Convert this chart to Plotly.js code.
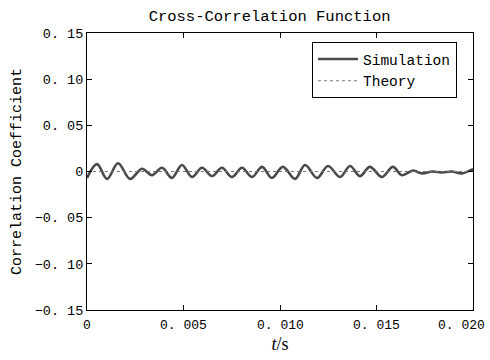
<!DOCTYPE html>
<html>
<head>
<meta charset="utf-8">
<script src="https://cdn.plot.ly/plotly-3.0.1.min.js"></script>
<style>html,body{margin:0;padding:0;background:#fff;}#chart{width:490px;height:360px;}</style>
</head>
<body>
<div id="chart"></div>
<script>
// Simulation curve: extrema (time in s, correlation coefficient)
var simT = [0, 0.00052, 0.00104, 0.00161, 0.00223, 0.00285, 0.00337, 0.00389, 0.00440, 0.00492,
            0.00544, 0.00596, 0.00648, 0.00699, 0.00751, 0.00803, 0.00855, 0.00907, 0.00958, 0.01015,
            0.01078, 0.01130, 0.01192, 0.01249, 0.01311, 0.01363, 0.01414, 0.01466, 0.01528, 0.01585,
            0.01632, 0.01689, 0.01736, 0.01788, 0.01839, 0.01891, 0.01943, 0.01995, 0.02000];
var simY = [-0.007, 0.008, -0.008, 0.009, -0.008, 0.003, -0.004, 0.004, -0.007, 0.007,
            -0.006, 0.004, -0.005, 0.004, -0.006, 0.004, -0.006, 0.005, -0.007, 0.005,
            -0.008, 0.007, -0.007, 0.006, -0.006, 0.006, -0.005, 0.005, -0.006, 0.005,
            -0.004, 0.001, -0.002, 0.000, -0.001, 0.000, -0.002, 0.002, 0.002];
// Theory curve
var theoryT = [0, 0.02];
var theoryY = [0, 0];
// Tick labels
var xTickVals = [0, 0.005, 0.010, 0.015, 0.020];
var xTickText = ["0", "0. 005", "0. 010", "0. 015", "0. 020"];
var yTickVals = [-0.15, -0.10, -0.05, 0, 0.05, 0.10, 0.15];
var yTickText = ["\u22120. 15", "\u22120. 10", "\u22120. 05", "0", "0. 05", "0. 10", "0. 15"];

var FONT = "Liberation Mono, DejaVu Sans Mono, monospace";

var traces = [
  {x: simT, y: simY, type: 'scatter', mode: 'lines', name: 'Simulation',
   line: {color: '#4a4a4a', width: 2.6, shape: 'spline', smoothing: 1}},
  {x: theoryT, y: theoryY, type: 'scatter', mode: 'lines', name: 'Theory',
   line: {color: '#777777', width: 1, dash: 'dot'}}
];

var axisCommon = {
  showline: true, linecolor: '#000', linewidth: 1, mirror: 'ticks',
  ticks: 'inside', ticklen: 5, tickcolor: '#000', tickwidth: 1,
  showgrid: false, zeroline: false,
  tickfont: {family: FONT, size: 13.5, color: '#000'}
};

// x tick labels drawn as annotations at the axis tick values (last one kept inside the page)
var xLabelAnn = xTickVals.map(function (v, i) {
  var last = (i === xTickVals.length - 1);
  return {x: v, xref: 'x', y: 0, yref: 'paper', yanchor: 'top', yshift: -6,
          xanchor: last ? 'right' : 'center', xshift: last ? 14 : 0,
          text: xTickText[i], showarrow: false,
          font: {family: FONT, size: 13, color: '#000'}};
});

var layout = {
  width: 490, height: 360,
  margin: {l: 87, r: 17, t: 33, b: 50},
  paper_bgcolor: '#fff', plot_bgcolor: '#fff',
  title: {text: 'Cross-Correlation Function', x: 0.473, xanchor: 'center', xref: 'paper',
          y: 0.956, yanchor: 'middle',
          font: {family: FONT, size: 15.5, color: '#000'}},
  xaxis: Object.assign({}, axisCommon, {
    range: [0, 0.02], tickmode: 'array', tickvals: xTickVals, ticktext: xTickText,
    showticklabels: false,
    title: {text: '<i>t</i>/s', standoff: 27, font: {family: 'Liberation Serif, serif', size: 18, color: '#000'}}
  }),
  yaxis: Object.assign({}, axisCommon, {
    range: [-0.15, 0.15], tickmode: 'array', tickvals: yTickVals, ticktext: yTickText,
    title: {text: 'Correlation Coefficient', standoff: 9, font: {family: FONT, size: 15, color: '#000'}}
  }),
  annotations: xLabelAnn,
  showlegend: true,
  legend: {x: 0.9585, xanchor: 'right', y: 0.9675, yanchor: 'top',
           bordercolor: '#000', borderwidth: 1, bgcolor: '#fff',
           itemwidth: 40, tracegroupgap: 0,
           font: {family: FONT, size: 14.5, color: '#000'}}
};

Plotly.newPlot('chart', traces, layout, {displayModeBar: false, staticPlot: true});
</script>
</body>
</html>
